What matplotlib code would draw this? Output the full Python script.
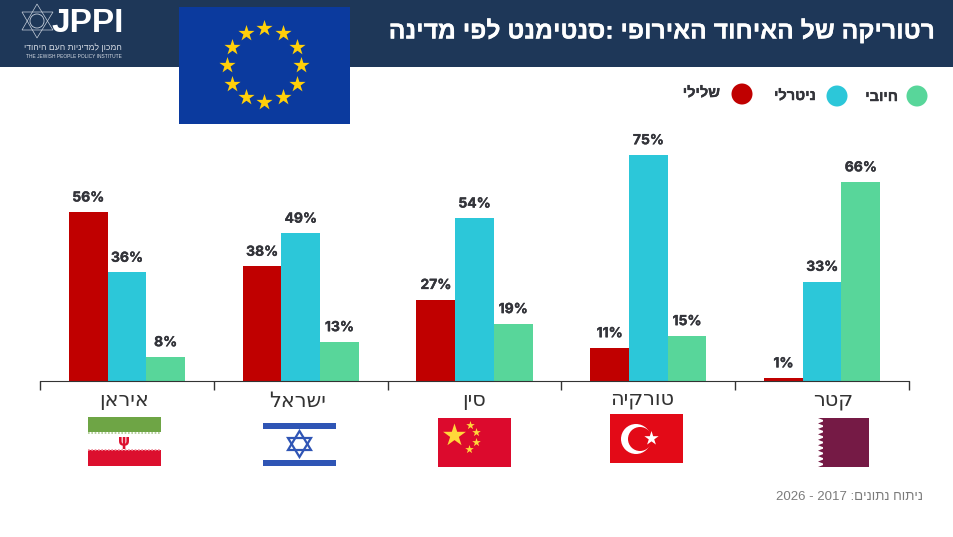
import numpy as np
import matplotlib
matplotlib.use('Agg')
import matplotlib.pyplot as plt
import matplotlib.patheffects as pe
from matplotlib.patches import Rectangle, Circle, Polygon

# matplotlib has no bidi layout, so Hebrew goes through this on its way to the canvas
def heb(s):
    return s[::-1]

countries = ['איראן', 'ישראל', 'סין', 'טורקיה', 'קטר']
negative = [56, 38, 27, 11, 1]
neutral = [36, 49, 54, 75, 33]
positive = [8, 13, 19, 15, 66]
series_names = ['שלילי', 'ניטרלי', 'חיובי']
title = 'רטוריקה של האיחוד האירופי :סנטימנט לפי מדינה'
source = '2026 - 2017 ' + heb('ניתוח נתונים:')

RED = '#c00000'
BLUE = '#2cc7d9'
GREEN = '#58d69a'
NAVY = '#1e3758'
DARK = '#33343a'


def heavy(lw, color):
    return [pe.withStroke(linewidth=lw, foreground=color)]


fig = plt.figure(figsize=(9.54, 5.37), dpi=100)

# chart area, pixel box 40..909 / 130..381
ax = fig.add_axes([40/954, (537-381)/537, 869/954, 251/537])
x = np.arange(len(countries))
w = 0.2225
b0 = ax.bar(x-w, negative, w, color=RED)
b1 = ax.bar(x, neutral, w, color=BLUE)
b2 = ax.bar(x+w, positive, w, color=GREEN)
for bars in (b0, b1, b2):
    for r in bars:
        ax.annotate('%d%%' % r.get_height(), (r.get_x()+r.get_width()/2, r.get_height()),
                    xytext=(0, 5.5), textcoords='offset points', ha='center', va='bottom',
                    fontsize=10, fontweight='bold', family='Inter', color=DARK,
                    path_effects=heavy(0.25, DARK))
ax.set_xlim(-0.5, 4.5)
ax.set_ylim(0, 251/3.015)
ax.set_xticks(np.arange(-0.5, 5))
ax.set_xticklabels([])
ax.set_yticks([])
ax.tick_params(axis='x', length=6.5, width=1, color='#333333')
for s in ['top', 'left', 'right']:
    ax.spines[s].set_visible(False)
ax.spines['bottom'].set_color('#333333')
ax.patch.set_alpha(0)

# everything else is placed in pixels
ov = fig.add_axes([0, 0, 1, 1], zorder=-1)
ov.set_xlim(0, 954)
ov.set_ylim(537, 0)
ov.axis('off')
top = fig.add_axes([0, 0, 1, 1], zorder=5)
top.set_xlim(0, 954)
top.set_ylim(537, 0)
top.axis('off')

ov.add_patch(Rectangle((0, 0), 954, 67, color=NAVY, lw=0))
top.text(936, 31, heb(title), ha='right', va='center', color='white', fontsize=17.8,
         fontweight='bold', family='Liberation Sans', path_effects=heavy(0.2, 'white'))


def star(cx, cy, d, color, axes=top):
    axes.scatter([cx], [cy], s=(d*0.72)**2, marker='*', color=color, linewidths=0)


# logo
top.text(51, 24, 'JPPI', color='white', fontsize=24, fontweight='bold',
         family='Liberation Sans', ha='left', va='center')
top.text(122, 47, heb('המכון למדיניות העם היהודי'), color='#d5dbe4', fontsize=6.2,
         family='Liberation Sans', ha='right', va='center')
top.text(122, 56, 'THE JEWISH PEOPLE POLICY INSTITUTE', color='#d5dbe4', fontsize=3.5,
         family='Liberation Sans', ha='right', va='center')
top.add_patch(Polygon([[37, 4], [53, 30], [22, 30]], fill=False, ec='#c9d1dc', lw=0.5))
top.add_patch(Polygon([[37, 38], [53, 12], [22, 12]], fill=False, ec='#c9d1dc', lw=0.5))
top.add_patch(Circle((37, 21), 7, fill=False, ec='#c9d1dc', lw=0.6))

# EU flag
top.add_patch(Rectangle((179, 7), 171, 117, color='#0b3a9e', lw=0))
for a in np.arange(12)*np.pi/6:
    star(264.5+37*np.sin(a), 65-37*np.cos(a), 17, '#ffcf0a')

# legend
legend_dots = [(742, 94), (837, 96), (917, 96)]
legend_right = [(720, 93), (816, 96), (898, 97)]
for name, c, dot, tx in zip(series_names, [RED, BLUE, GREEN], legend_dots, legend_right):
    top.add_patch(Circle(dot, 10.5, color=c, lw=0))
    top.text(tx[0], tx[1], heb(name), ha='right', va='center', fontsize=10.5, fontweight='bold',
             family='Liberation Sans', color=DARK, path_effects=heavy(0.3, DARK))

# category names, sitting a little off the bar groups as in the original
label_px = [(124, 400), (298, 401), (474, 400), (642, 399), (833, 400)]
for name, p in zip(countries, label_px):
    top.text(p[0], p[1], heb(name), ha='center', va='center', fontsize=15,
             family='DejaVu Sans', color='#333333')

# Iran
top.add_patch(Rectangle((88, 417), 73, 15, color='#6ea545', lw=0))
top.add_patch(Rectangle((88, 450), 73, 16, color='#dc0f2e', lw=0))
top.plot([88, 161], [433, 433], color='#a9c98c', lw=1.2, ls=(0, (1, 1)))
top.plot([88, 161], [449.5, 449.5], color='#ee8a98', lw=1.2, ls=(0, (1, 1)))
top.text(124.5, 441.5, 'ψ', color='#dc0f2e', fontsize=11, fontweight='bold', ha='center', va='center')

# Israel
il = '#2f55b5'
top.add_patch(Rectangle((263, 423), 73, 6, color=il, lw=0))
top.add_patch(Rectangle((263, 460), 73, 6, color=il, lw=0))
top.add_patch(Polygon([[299.5, 431], [311, 450], [288, 450]], fill=False, ec=il, lw=1.6))
top.add_patch(Polygon([[299.5, 457], [311, 438], [288, 438]], fill=False, ec=il, lw=1.6))

# China
top.add_patch(Rectangle((438, 418), 73, 49, color='#dc0a2d', lw=0))
star(454, 435, 24, '#ffd83a')
for p in [(470, 425), (476, 432), (476, 442), (469, 449)]:
    star(p[0], p[1], 9, '#ffd83a')

# Turkey
top.add_patch(Rectangle((610, 414), 73, 49, color='#e30a17', lw=0))
top.add_patch(Circle((636, 439), 15, color='white', lw=0))
top.add_patch(Circle((640, 439), 12, color='#e30a17', lw=0))
star(651, 438, 15, 'white')

# Qatar
top.add_patch(Rectangle((823, 418), 46, 49, color='#751a45', lw=0))
teeth = []
for i in range(9):
    y0 = 418+i*49/9
    teeth += [[818, y0], [825, y0+49/18]]
teeth += [[818, 467], [830, 467], [830, 418]]
top.add_patch(Polygon(teeth, color='#751a45', lw=0))

top.text(923, 497, source, ha='right', va='center', fontsize=9.5, family='Liberation Sans', color='#7b7b7b')

fig.savefig('out.png', dpi=100, facecolor='white')
